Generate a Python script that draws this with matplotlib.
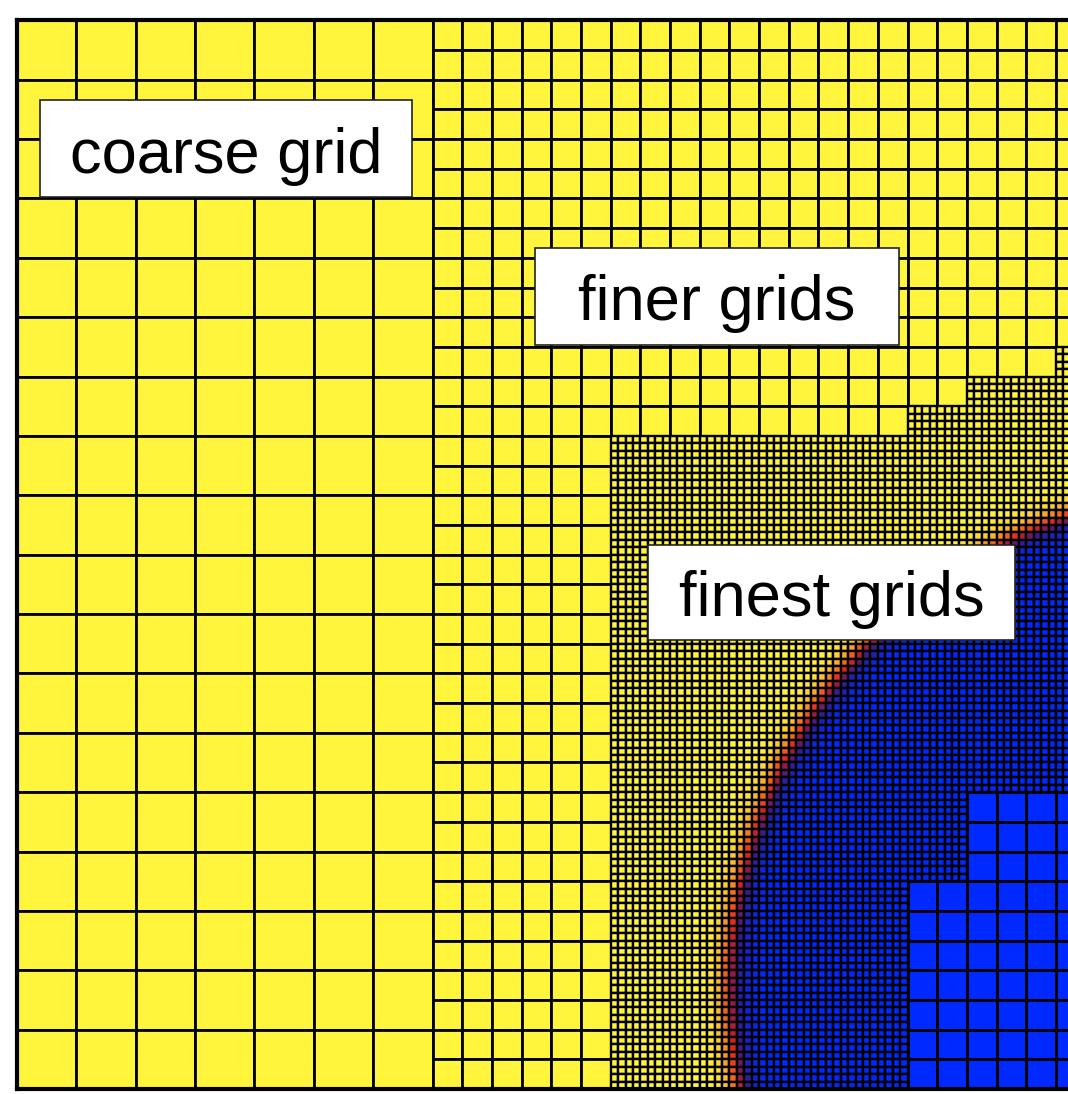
import numpy as np
import matplotlib.pyplot as plt
from matplotlib.colors import LinearSegmentedColormap
from matplotlib.patches import Rectangle

# everything in coarse-cell units, y counted downward from the top
domain = 18

# refinement patches: (x0, x1, y0, y1, cell size)
coarse_patches = [(0, 18, 0, 18, 1.0)]
finer_patches = [(7, 18, 0, 18, 0.5)]
finest_patches = [
    (10, 15, 7, 18, 0.125),
    (15, 16, 6.5, 14.5, 0.125),
    (16, 17.5, 6, 13, 0.125),
    (17.5, 18, 5.5, 13, 0.125),
]
grid_linewidths = [2.0, 2.0, 1.7]

# circular front between the two phases
front_center = (20.4, 16.3)
front_radius = 8.35
front_width = 0.22

phase_stops = [0.0, 0.18, 0.32, 0.5, 0.63, 0.76, 0.88, 1.0]
phase_colors = ['#0029ff', '#1c22b4', '#3c1a8c', '#9c1a44', '#e82a1e',
                '#f2661a', '#f6ac2a', '#fff53c']

labels = ['coarse grid', 'finer grids', 'finest grids']
# label boxes: (x0, x1, y0, y1)
label_boxes = [(0.39, 6.66, 1.35, 2.98),
               (8.73, 14.85, 3.84, 5.47),
               (10.63, 16.81, 8.84, 10.44)]

cmap = LinearSegmentedColormap.from_list('phase', list(zip(phase_stops, phase_colors)))


def phase(xc, yc):
    d = np.hypot(xc - front_center[0], yc - front_center[1])
    return 0.5 + 0.5 * np.tanh((d - front_radius) / front_width)


fig = plt.figure(figsize=(10.68, 10.94), dpi=100)
cell_px = 59.37
ax = fig.add_axes([17 / 1068, 5 / 1094, domain * cell_px / 1068, domain * cell_px / 1094])

for patches, lw in zip([coarse_patches, finer_patches, finest_patches], grid_linewidths):
    for x0, x1, y0, y1, h in patches:
        xe = np.arange(x0, x1 + h / 2, h)
        ye = np.arange(y0, y1 + h / 2, h)
        xc, yc = np.meshgrid((xe[:-1] + xe[1:]) / 2, (ye[:-1] + ye[1:]) / 2)
        ax.pcolormesh(xe, ye, phase(xc, yc), cmap=cmap, vmin=0, vmax=1,
                      edgecolors='k', linewidth=lw, antialiased=True)

for text, (x0, x1, y0, y1) in zip(labels, label_boxes):
    ax.add_patch(Rectangle((x0, y0), x1 - x0, y1 - y0, facecolor='white',
                           edgecolor='#222222', linewidth=1.2, zorder=5))
    ax.text((x0 + x1) / 2, (y0 + y1) / 2 + 0.40, text, ha='center', va='baseline',
            fontsize=45.5, family='Liberation Sans', zorder=6)

ax.set_xlim(0, domain)
ax.set_ylim(domain, 0)
ax.set_xticks([])
ax.set_yticks([])
for s in ax.spines.values():
    s.set_linewidth(3)
    s.set_zorder(7)

fig.savefig('out.png', dpi=100)
